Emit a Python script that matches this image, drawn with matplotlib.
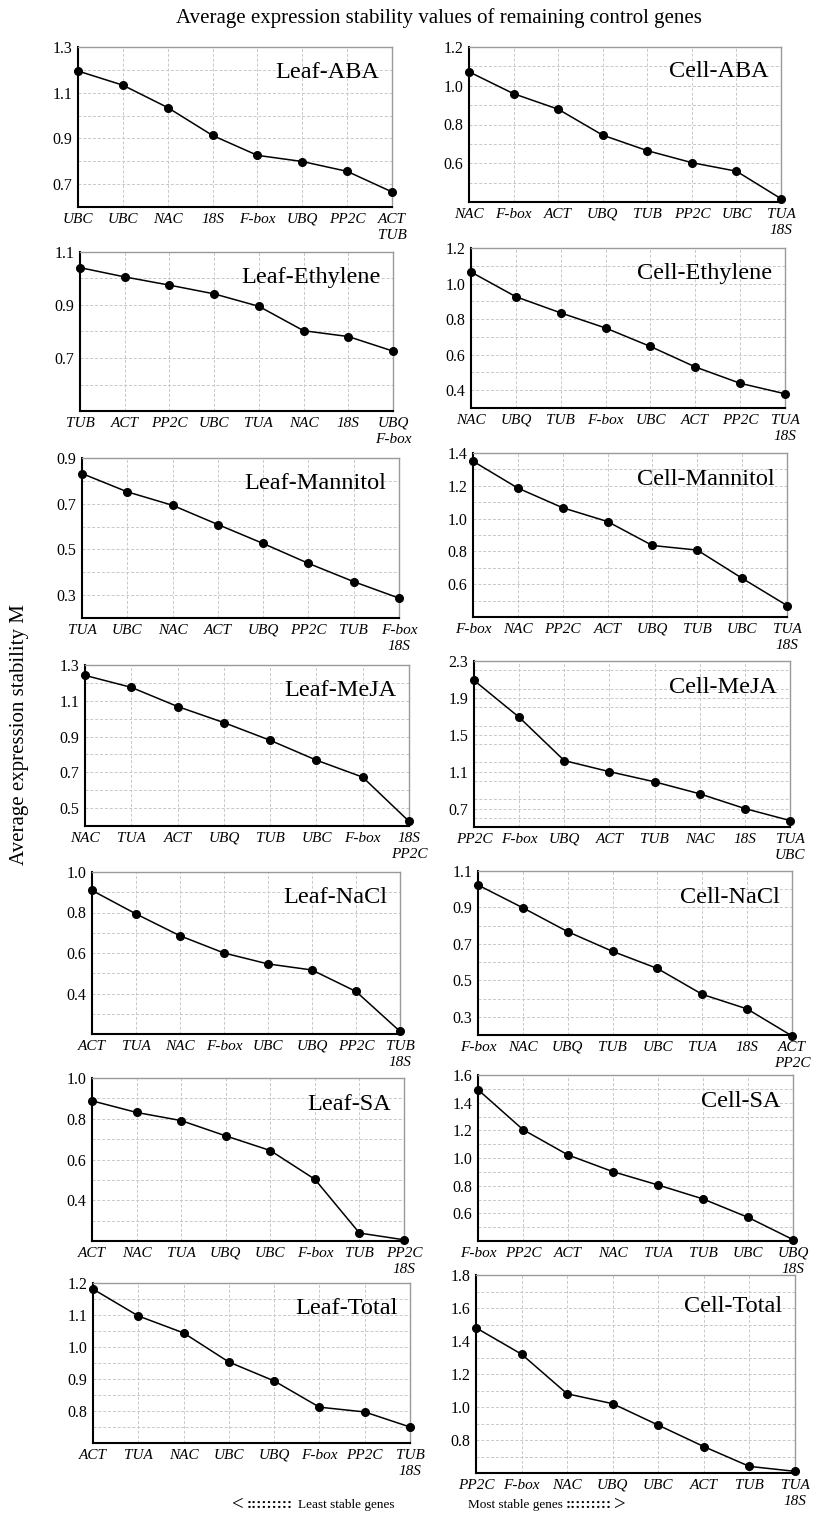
import numpy as np
import matplotlib
matplotlib.use("Agg")
import matplotlib.pyplot as plt
from matplotlib.ticker import MultipleLocator, FormatStrFormatter

plt.rcParams["font.family"] = ["Liberation Serif", "DejaVu Serif"]

# panel names, gene order (least -> most stable) and M values
names = ["Leaf-ABA", "Cell-ABA", "Leaf-Ethylene", "Cell-Ethylene",
         "Leaf-Mannitol", "Cell-Mannitol", "Leaf-MeJA", "Cell-MeJA",
         "Leaf-NaCl", "Cell-NaCl", "Leaf-SA", "Cell-SA",
         "Leaf-Total", "Cell-Total"]

genes = [
    ["UBC", "UBC", "NAC", "18S", "F-box", "UBQ", "PP2C", "ACT\nTUB"],
    ["NAC", "F-box", "ACT", "UBQ", "TUB", "PP2C", "UBC", "TUA\n18S"],
    ["TUB", "ACT", "PP2C", "UBC", "TUA", "NAC", "18S", "UBQ\nF-box"],
    ["NAC", "UBQ", "TUB", "F-box", "UBC", "ACT", "PP2C", "TUA\n18S"],
    ["TUA", "UBC", "NAC", "ACT", "UBQ", "PP2C", "TUB", "F-box\n18S"],
    ["F-box", "NAC", "PP2C", "ACT", "UBQ", "TUB", "UBC", "TUA\n18S"],
    ["NAC", "TUA", "ACT", "UBQ", "TUB", "UBC", "F-box", "18S\nPP2C"],
    ["PP2C", "F-box", "UBQ", "ACT", "TUB", "NAC", "18S", "TUA\nUBC"],
    ["ACT", "TUA", "NAC", "F-box", "UBC", "UBQ", "PP2C", "TUB\n18S"],
    ["F-box", "NAC", "UBQ", "TUB", "UBC", "TUA", "18S", "ACT\nPP2C"],
    ["ACT", "NAC", "TUA", "UBQ", "UBC", "F-box", "TUB", "PP2C\n18S"],
    ["F-box", "PP2C", "ACT", "NAC", "TUA", "TUB", "UBC", "UBQ\n18S"],
    ["ACT", "TUA", "NAC", "UBC", "UBQ", "F-box", "PP2C", "TUB\n18S"],
    ["PP2C", "F-box", "NAC", "UBQ", "UBC", "ACT", "TUB", "TUA\n18S"],
]

values = [
    [1.195, 1.133, 1.035, 0.913, 0.826, 0.799, 0.756, 0.666],
    [1.072, 0.959, 0.879, 0.745, 0.665, 0.603, 0.559, 0.417],
    [1.041, 1.006, 0.975, 0.942, 0.895, 0.803, 0.781, 0.726],
    [1.065, 0.926, 0.835, 0.750, 0.646, 0.531, 0.439, 0.380],
    [0.832, 0.752, 0.693, 0.609, 0.526, 0.439, 0.359, 0.287],
    [1.350, 1.186, 1.066, 0.982, 0.836, 0.808, 0.636, 0.470],
    [1.242, 1.175, 1.068, 0.978, 0.879, 0.768, 0.673, 0.426],
    [2.09, 1.69, 1.22, 1.10, 0.99, 0.86, 0.70, 0.57],
    [0.909, 0.793, 0.685, 0.600, 0.546, 0.516, 0.410, 0.213],
    [1.023, 0.898, 0.767, 0.659, 0.565, 0.423, 0.343, 0.195],
    [0.888, 0.831, 0.791, 0.716, 0.644, 0.503, 0.239, 0.206],
    [1.494, 1.205, 1.022, 0.901, 0.805, 0.704, 0.571, 0.410],
    [1.181, 1.097, 1.044, 0.953, 0.894, 0.812, 0.797, 0.750],
    [1.48, 1.32, 1.08, 1.02, 0.89, 0.76, 0.64, 0.61],
]

# y axis ranges and label steps
ymin = [0.6, 0.4, 0.5, 0.3, 0.2, 0.4, 0.4, 0.5, 0.2, 0.2, 0.2, 0.4, 0.7, 0.6]
ymax = [1.3, 1.2, 1.1, 1.2, 0.9, 1.4, 1.3, 2.3, 1.0, 1.1, 1.0, 1.6, 1.2, 1.8]
ystep = [0.2, 0.2, 0.2, 0.2, 0.2, 0.2, 0.2, 0.4, 0.2, 0.2, 0.2, 0.2, 0.1, 0.2]
yfirst = [0.7, 0.6, 0.7, 0.4, 0.3, 0.6, 0.5, 0.7, 0.4, 0.3, 0.4, 0.6, 0.8, 0.8]

W, H = 815, 1517
# axes boxes in pixels: left, top, right, bottom
boxes = [
    (78, 47, 392, 207), (469, 47, 781, 202),
    (80, 252, 393, 411), (471, 248, 785, 408),
    (82, 458, 399, 618), (473, 453, 787, 617),
    (85, 665, 409, 826), (474, 661, 790, 827),
    (92, 872, 400, 1034), (478, 871, 792, 1035),
    (92, 1078, 404, 1241), (478, 1075, 793, 1241),
    (93, 1283, 410, 1443), (476, 1275, 795, 1473),
]

fig = plt.figure(figsize=(W / 100, H / 100), dpi=100)

for i in range(len(names)):
    l, t, r, b = boxes[i]
    ax = fig.add_axes([l / W, 1 - b / H, (r - l) / W, (b - t) / H])
    x = np.arange(len(values[i]))
    ax.plot(x, values[i], color="black", lw=1.1, marker="o", ms=5.5,
            clip_on=False, zorder=5)
    ax.set_xlim(0, len(x) - 1)
    ax.set_ylim(ymin[i], ymax[i])
    ticks = np.arange(yfirst[i], ymax[i] + 1e-6, ystep[i])
    ax.set_yticks(ticks)
    ax.yaxis.set_major_formatter(FormatStrFormatter("%.1f"))
    ax.yaxis.set_minor_locator(MultipleLocator(ystep[i] / 2))
    ax.set_xticks(x)
    ax.set_xticklabels(genes[i], fontstyle="italic", fontsize=11,
                       linespacing=1.3)
    ax.tick_params(axis="both", which="both", length=0, pad=4)
    ax.tick_params(axis="y", labelsize=11.5)
    ax.grid(True, which="both", color="#c8c8c8", ls=(0, (3, 2)), lw=0.7)
    ax.set_axisbelow(True)
    for s in ["left", "bottom"]:
        ax.spines[s].set_linewidth(1.5)
        ax.spines[s].set_color("black")
    for s in ["top", "right"]:
        ax.spines[s].set_linewidth(1.0)
        ax.spines[s].set_color("#9a9a9a")
    ax.text(0.96, 0.84, names[i], transform=ax.transAxes, ha="right",
            va="center", fontsize=17.5)

fig.text(439 / W, 1 - 18 / H, "Average expression stability values of remaining control genes",
         ha="center", va="center", fontsize=15)
fig.text(20 / W, 1 - 735 / H, "Average expression stability M", rotation=90,
         ha="center", va="center", fontsize=15)

# bottom direction note
yb = 1 - 1505 / H
fig.text(232 / W, yb, "<", ha="left", va="center", fontsize=15)
fig.text(247 / W, yb, ":::::::::", ha="left", va="center", fontsize=11,
         fontweight="bold")
fig.text(298 / W, yb, "Least stable genes", ha="left", va="center", fontsize=9.5)
fig.text(468 / W, yb, "Most stable genes", ha="left", va="center", fontsize=9.5)
fig.text(566 / W, yb, ":::::::::", ha="left", va="center", fontsize=11,
         fontweight="bold")
fig.text(614 / W, yb, ">", ha="left", va="center", fontsize=15)

fig.savefig("out.png", dpi=100)
